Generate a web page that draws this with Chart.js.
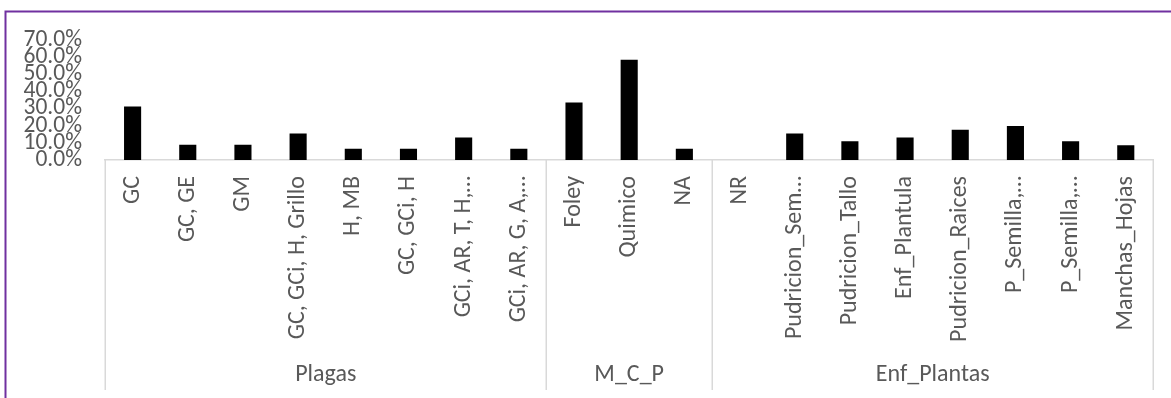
<!DOCTYPE html>
<html>
<head>
<meta charset="utf-8">
<script src="https://cdn.jsdelivr.net/npm/chart.js@4/dist/chart.umd.min.js"></script>
<style>
  html, body { margin: 0; padding: 0; background: #ffffff; overflow: hidden; }
  #wrap { position: relative; width: 1171px; height: 398px; }
</style>
</head>
<body>
<div id="wrap"><canvas id="chart" width="1171" height="398"></canvas></div>
<script>
// Category labels (inner level of the axis)
const categories = [
  "GC", "GC, GE", "GM", "GC, GCi, H, Grillo", "H, MB", "GC, GCi, H",
  "GCi, AR, T, H,…", "GCi, AR, G, A,…",
  "Foley", "Quimico", "NA",
  "NR", "Pudricion_Sem…", "Pudricion_Tallo", "Enf_Plantula",
  "Pudricion_Raices", "P_Semilla,…", "P_Semilla,…", "Manchas_Hojas"
];

// Share of responses per category, in percent
const percentValues = [
  31.2, 8.9, 8.9, 15.5, 6.5, 6.5, 13.1, 6.5,
  33.5, 58.5, 6.5,
  0, 15.5, 11.0, 13.1, 17.6, 19.9, 11.0, 8.6
];

// Outer level of the axis: group names and how many categories each spans
const groupNames = ["Plagas", "M_C_P", "Enf_Plantas"];
const groupSizes = [8, 3, 8];

// Value axis ticks
const yTickMin = 0;
const yTickMax = 70;
const yTickStep = 10;

const textColor = "#595959";
const lineColor = "#d9d9d9";
const fontFamily = "Carlito, Calibri, Lato, 'Open Sans', sans-serif";

// Outer frame of the chart object (left and top edges)
const framePlugin = {
  id: "frame",
  beforeDraw(chart) {
    const ctx = chart.ctx;
    ctx.save();
    ctx.strokeStyle = "#7030a0";
    ctx.lineWidth = 2;
    ctx.beginPath();
    ctx.moveTo(5.5, chart.height);
    ctx.lineTo(5.5, 11.5);
    ctx.lineTo(chart.width, 11.5);
    ctx.stroke();
    ctx.restore();
  }
};

// Second level of the category axis: separators and group titles
const groupAxisPlugin = {
  id: "groupAxis",
  afterDraw(chart) {
    const x = chart.scales.x;
    const ctx = chart.ctx;
    const top = x.top;
    const bottom = top + 230;
    ctx.save();
    ctx.strokeStyle = lineColor;
    ctx.lineWidth = 1.5;
    let start = 0;
    const edges = [-0.5];
    groupSizes.forEach(n => { start += n; edges.push(start - 0.5); });
    edges.forEach(e => {
      const px = Math.round(x.getPixelForValue(e)) + 0.25;
      ctx.beginPath();
      ctx.moveTo(px, top);
      ctx.lineTo(px, bottom);
      ctx.stroke();
    });
    ctx.fillStyle = textColor;
    ctx.font = "24px " + fontFamily;
    ctx.textAlign = "center";
    ctx.textBaseline = "middle";
    groupNames.forEach((name, i) => {
      const a = x.getPixelForValue(edges[i]);
      const b = x.getPixelForValue(edges[i + 1]);
      ctx.fillText(name, (a + b) / 2, top + 215);
    });
    ctx.restore();
  }
};

new Chart(document.getElementById("chart"), {
  type: "bar",
  data: {
    labels: categories,
    datasets: [{
      data: percentValues,
      backgroundColor: "#000000",
      borderWidth: 0,
      barPercentage: 0.31,
      categoryPercentage: 1.0
    }]
  },
  options: {
    responsive: false,
    animation: false,
    devicePixelRatio: 1,
    layout: { padding: { top: 40, right: 16, left: 0, bottom: 0 } },
    plugins: {
      legend: { display: false },
      tooltip: { enabled: false }
    },
    scales: {
      x: {
        type: "category",
        grid: { display: false, drawTicks: false },
        border: { display: true, color: lineColor, width: 1.5 },
        ticks: {
          autoSkip: false,
          minRotation: 90,
          maxRotation: 90,
          padding: 16,
          color: textColor,
          font: { family: fontFamily, size: 24 }
        },
        afterFit(scale) { scale.height = 238; }
      },
      y: {
        min: yTickMin,
        max: yTickMax,
        grid: { display: false, drawTicks: false },
        border: { display: false },
        ticks: {
          stepSize: yTickStep,
          autoSkip: false,
          padding: 23,
          color: textColor,
          font: { family: fontFamily, size: 23.5, lineHeight: 1 },
          callback: v => v.toFixed(1) + "%"
        },
        afterFit(scale) { scale.width = 105; }
      }
    }
  },
  plugins: [framePlugin, groupAxisPlugin]
});
</script>
</body>
</html>
